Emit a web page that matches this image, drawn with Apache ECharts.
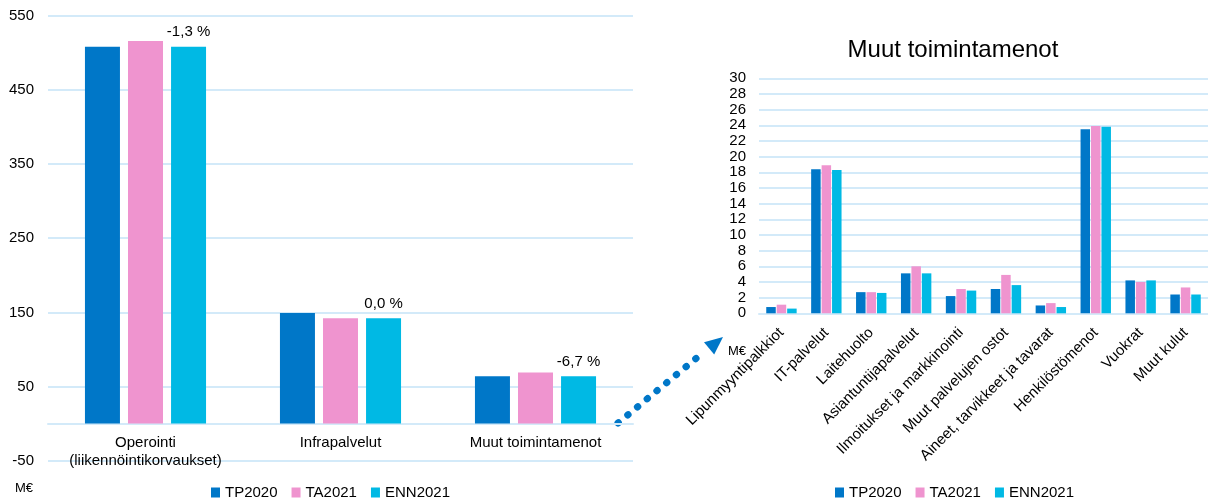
<!DOCTYPE html>
<html>
<head>
<meta charset="utf-8">
<script src="https://cdn.jsdelivr.net/npm/echarts@6/dist/echarts.min.js"></script>
<style>
html,body{margin:0;padding:0;background:#fff;}
#c{width:1208px;height:499px;}
</style>
</head>
<body>
<div id="c"></div>
<script>
// ---- data ----
const seriesNames = ['TP2020', 'TA2021', 'ENN2021'];
const mainCategories = ['Operointi\n(liikennöintikorvaukset)', 'Infrapalvelut', 'Muut toimintamenot'];
const mainTP2020 = [508, 149, 64];
const mainTA2021 = [516, 142, 69];
const mainENN2021 = [508, 142, 64];
const changeLabels = ['-1,3 %', '0,0 %', '-6,7 %'];
const mainTicks = { min: -50, max: 550, interval: 100 };

const detailTitle = 'Muut toimintamenot';
const detailCategories = ['Lipunmyyntipalkkiot', 'IT-palvelut', 'Laitehuolto', 'Asiantuntijapalvelut',
  'Ilmoitukset ja markkinointi', 'Muut palvelujen ostot', 'Aineet, tarvikkeet ja tavarat',
  'Henkilöstömenot', 'Vuokrat', 'Muut kulut'];
const detailTP2020 = [0.8, 18.4, 2.7, 5.1, 2.2, 3.1, 1.0, 23.5, 4.2, 2.4];
const detailTA2021 = [1.1, 18.9, 2.7, 6.0, 3.1, 4.9, 1.3, 23.9, 4.0, 3.3];
const detailENN2021 = [0.6, 18.3, 2.6, 5.1, 2.9, 3.6, 0.8, 23.8, 4.2, 2.4];
const detailTicks = { min: 0, max: 30, interval: 2 };
const unitLabel = 'M€';

// ---- style ----
const FONT = "'Liberation Sans', Arial, sans-serif";
const colors = ['#0077C8', '#EF94CF', '#00B9E4'];
const gridColor = '#D3EAF9';

const chart = echarts.init(document.getElementById('c'), null, { renderer: 'canvas' });

const mainData = [mainTP2020, mainTA2021, mainENN2021];
const detailData = [detailTP2020, detailTA2021, detailENN2021];

// main grid geometry (pixels) and where value 0 falls in it, so the category axis sits on zero
const mainGrid = { left: 48, right: 575, top: 15.7, bottom: 38.3 };
const mainPlotH = 499 - mainGrid.top - mainGrid.bottom;
const zeroOffset = -mainPlotH * (0 - mainTicks.min) / (mainTicks.max - mainTicks.min);

const series = [];
seriesNames.forEach((n, i) => {
  const s = {
    name: n, type: 'bar', xAxisIndex: 0, yAxisIndex: 0,
    data: mainData[i], barWidth: 35, barGap: '23%',
    itemStyle: { color: colors[i] }, animation: false
  };
  if (i === 2) {
    s.label = {
      show: true, position: 'top', distance: 7, color: '#000',
      fontFamily: FONT, fontSize: 15,
      formatter: p => changeLabels[p.dataIndex]
    };
  }
  series.push(s);
});
seriesNames.forEach((n, i) => {
  series.push({
    name: n, type: 'bar', xAxisIndex: 1, yAxisIndex: 1,
    data: detailData[i], barWidth: 9.5, barGap: '10%',
    itemStyle: { color: colors[i] }, animation: false
  });
});

const legendCommon = {
  data: seriesNames, icon: 'rect', itemWidth: 9, itemHeight: 10, itemGap: 14,
  textStyle: { fontFamily: FONT, fontSize: 15, color: '#000' }, top: 480
};

chart.setOption({
  animation: false,
  color: colors,
  title: {
    text: detailTitle, left: 948, top: 33, textAlign: 'center',
    textStyle: { fontFamily: FONT, fontSize: 24, fontWeight: 'normal', color: '#000' }
  },
  legend: [
    Object.assign({ left: 206 }, legendCommon),
    Object.assign({ left: 830 }, legendCommon)
  ],
  grid: [
    Object.assign({ containLabel: false, outerBoundsMode: 'none' }, mainGrid),
    { left: 759, right: 0, top: 78.3, bottom: 185.7, containLabel: false, outerBoundsMode: 'none' }
  ],
  xAxis: [
    {
      type: 'category', gridIndex: 0, data: mainCategories, offset: zeroOffset,
      axisLine: { onZero: false, lineStyle: { color: gridColor, width: 2 } },
      axisTick: { show: false },
      axisLabel: { fontFamily: FONT, fontSize: 15, color: '#000', margin: 10, lineHeight: 18, interval: 0 }
    },
    {
      type: 'category', gridIndex: 1, data: detailCategories,
      axisLine: { lineStyle: { color: gridColor, width: 2 } },
      axisTick: { show: false },
      axisLabel: { fontFamily: FONT, fontSize: 15, color: '#000', margin: 17, rotate: 45, interval: 0 }
    }
  ],
  yAxis: [
    {
      type: 'value', gridIndex: 0, min: mainTicks.min, max: mainTicks.max, interval: mainTicks.interval,
      axisLine: { show: false }, axisTick: { show: false },
      splitLine: { lineStyle: { color: gridColor, width: 2 } },
      axisLabel: { fontFamily: FONT, fontSize: 15, color: '#000', margin: 14 }
    },
    {
      type: 'value', gridIndex: 1, min: detailTicks.min, max: detailTicks.max, interval: detailTicks.interval,
      axisLine: { show: false }, axisTick: { show: false },
      splitLine: { lineStyle: { color: gridColor, width: 2 } },
      axisLabel: { fontFamily: FONT, fontSize: 15, color: '#000', margin: 13 }
    }
  ],
  series: series,
  graphic: [
    {
      type: 'text', left: 15, top: 482,
      style: { text: unitLabel, fontFamily: FONT, fontSize: 13, fill: '#000' }
    },
    {
      type: 'text', left: 728, top: 345,
      style: { text: unitLabel, fontFamily: FONT, fontSize: 13, fill: '#000' }
    },
    {
      type: 'line', silent: true,
      shape: { x1: 618, y1: 423, x2: 705, y2: 351 },
      style: { stroke: '#0077C8', lineWidth: 7, lineCap: 'round', lineDash: [0.5, 12.1] }
    },
    {
      type: 'polygon', silent: true,
      shape: { points: [[723, 337], [704, 342.2], [714.2, 354.6]] },
      style: { fill: '#0077C8' }
    }
  ]
});
</script>
</body>
</html>
